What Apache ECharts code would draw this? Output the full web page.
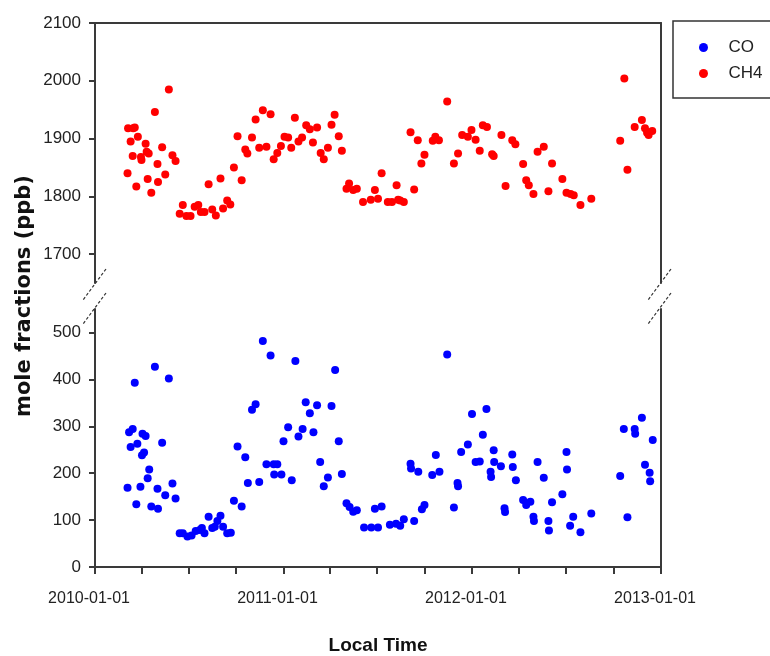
<!DOCTYPE html>
<html>
<head>
<meta charset="utf-8">
<script src="https://cdn.jsdelivr.net/npm/echarts@6/dist/echarts.min.js"></script>
<style>
html,body{margin:0;padding:0;background:#fff;}
#c{width:770px;height:656px;}
</style>
</head>
<body>
<div id="c"></div>
<script>
// ---- data ----
var seriesNames = ['CO', 'CH4'];
var ch4Data = [
['2010-03-05',1840],['2010-03-06',1918],['2010-03-11',1895],['2010-03-16',1918],['2010-03-19',1919],['2010-03-15',1870],['2010-03-22',1817],['2010-03-25',1903],['2010-03-31',1868],['2010-04-01',1863],['2010-04-09',1891],['2010-04-11',1877],['2010-04-15',1874],['2010-04-13',1830],['2010-04-20',1806],['2010-04-27',1946],['2010-05-02',1856],['2010-05-03',1825],['2010-05-11',1885],['2010-05-17',1838],['2010-05-24',1985],['2010-05-31',1871],['2010-06-06',1861],['2010-06-14',1770],['2010-06-20',1785],['2010-06-27',1766],['2010-07-05',1766],['2010-07-13',1782],['2010-07-20',1785],['2010-07-25',1773],['2010-08-01',1773],['2010-08-09',1821],['2010-08-16',1777],['2010-08-23',1767],['2010-09-01',1831],['2010-09-06',1779],['2010-09-14',1793],['2010-09-20',1786],['2010-09-27',1850],['2010-10-04',1904],['2010-10-12',1828],['2010-10-19',1881],['2010-10-23',1874],['2010-11-01',1902],['2010-11-08',1933],['2010-11-15',1884],['2010-11-22',1949],['2010-11-29',1886],['2010-12-07',1942],['2010-12-13',1864],['2010-12-20',1875],['2010-12-27',1887],
['2011-01-03',1903],['2011-01-10',1902],['2011-01-16',1884],['2011-01-23',1936],['2011-01-30',1895],['2011-02-06',1902],['2011-02-14',1923],['2011-02-21',1916],['2011-02-27',1893],['2011-03-07',1919],['2011-03-14',1875],['2011-03-20',1864],['2011-03-28',1884],['2011-04-04',1924],['2011-04-10',1941],['2011-04-18',1904],['2011-04-24',1879],['2011-05-03',1813],['2011-05-08',1822],['2011-05-16',1811],['2011-05-23',1813],['2011-06-04',1790],['2011-06-19',1794],['2011-06-27',1811],['2011-07-03',1796],['2011-07-10',1840],['2011-07-22',1790],['2011-07-30',1790],['2011-08-08',1819],['2011-08-11',1794],['2011-08-15',1793],['2011-08-22',1790],['2011-09-04',1911],['2011-09-11',1812],['2011-09-18',1897],['2011-09-25',1857],['2011-10-01',1872],['2011-10-17',1896],['2011-10-22',1903],['2011-10-29',1897],['2011-11-14',1964],['2011-11-27',1857],['2011-12-05',1874],['2011-12-13',1906],['2011-12-24',1903],['2011-12-31',1915],
['2012-01-08',1898],['2012-01-16',1879],['2012-01-22',1923],['2012-01-30',1920],['2012-02-09',1873],['2012-02-12',1870],['2012-02-27',1906],['2012-03-06',1818],['2012-03-19',1897],['2012-03-25',1890],['2012-04-09',1856],['2012-04-15',1828],['2012-04-20',1819],['2012-04-29',1804],['2012-05-07',1877],['2012-05-19',1886],['2012-05-28',1809],['2012-06-04',1857],['2012-06-24',1830],['2012-07-02',1806],['2012-07-10',1804],['2012-07-16',1802],['2012-07-29',1785],['2012-08-19',1796],['2012-10-14',1896],['2012-10-22',2004],['2012-10-28',1846],['2012-11-11',1920],['2012-11-25',1932],['2012-12-01',1918],['2012-12-05',1910],['2012-12-08',1906],['2012-12-15',1913]
];
var coData = [
['2010-03-05',169],['2010-03-08',287],['2010-03-15',294],['2010-03-11',256],['2010-03-19',393],['2010-03-22',134],['2010-03-24',263],['2010-03-30',171],['2010-04-03',284],['2010-04-09',279],['2010-04-02',238],['2010-04-06',244],['2010-04-13',189],['2010-04-16',208],['2010-04-20',129],['2010-04-27',427],['2010-05-02',167],['2010-05-03',124],['2010-05-11',265],['2010-05-17',153],['2010-05-24',402],['2010-05-31',178],['2010-06-06',146],['2010-06-14',72],['2010-06-20',72],['2010-06-29',65],['2010-07-07',67],['2010-07-15',77],['2010-07-23',79],['2010-07-27',83],['2010-08-01',72],['2010-08-09',107],['2010-08-16',83],['2010-08-21',86],['2010-08-26',98],['2010-09-01',109],['2010-09-06',86],['2010-09-14',72],['2010-09-21',73],['2010-09-27',141],['2010-10-04',257],['2010-10-12',129],['2010-10-19',234],['2010-10-24',179],['2010-11-01',335],['2010-11-08',347],['2010-11-15',181],['2010-11-22',482],['2010-12-07',451],['2010-11-29',219],['2010-12-13',219],['2010-12-20',219],['2010-12-14',197],['2010-12-28',197],
['2011-01-01',268],['2011-01-10',298],['2011-01-17',185],['2011-01-24',439],['2011-01-30',278],['2011-02-07',294],['2011-02-13',351],['2011-02-21',328],['2011-02-28',287],['2011-03-07',345],['2011-03-13',224],['2011-03-20',172],['2011-03-28',191],['2011-04-04',343],['2011-04-11',420],['2011-04-18',268],['2011-04-24',198],['2011-05-03',136],['2011-05-09',128],['2011-05-16',118],['2011-05-23',121],['2011-06-06',84],['2011-06-20',84],['2011-06-27',124],['2011-07-03',84],['2011-07-10',129],['2011-07-26',90],['2011-08-07',92],['2011-08-15',88],['2011-08-22',102],['2011-09-11',98],['2011-09-26',123],['2011-10-01',132],['2011-09-04',220],['2011-09-05',210],['2011-09-19',203],['2011-10-16',196],['2011-10-23',239],['2011-10-30',203],['2011-11-14',453],['2011-11-27',127],['2011-12-04',179],['2011-12-05',172],['2011-12-11',245],['2011-12-24',261],
['2012-01-01',326],['2012-01-08',224],['2012-01-16',225],['2012-01-22',282],['2012-01-29',337],['2012-02-06',203],['2012-02-07',192],['2012-02-12',249],['2012-02-13',224],['2012-02-26',215],['2012-03-04',125],['2012-03-05',117],['2012-03-19',240],['2012-03-20',213],['2012-03-26',185],['2012-04-09',143],['2012-04-15',132],['2012-04-23',139],['2012-04-29',107],['2012-04-30',98],['2012-05-07',224],['2012-05-19',190],['2012-05-28',98],['2012-05-29',78],['2012-06-04',138],['2012-06-24',155],['2012-07-02',245],['2012-07-03',208],['2012-07-09',88],['2012-07-15',107],['2012-07-29',74],['2012-08-19',114],['2012-10-14',194],['2012-10-21',294],['2012-10-28',106],['2012-11-11',294],['2012-11-12',284],['2012-11-25',318],['2012-12-01',218],['2012-12-10',201],['2012-12-11',183],['2012-12-16',271]
];
var xTickDates = ['2010-01-01','2010-04-01','2010-07-01','2010-10-01','2011-01-01','2011-04-01','2011-07-01','2011-10-01','2012-01-01','2012-04-01','2012-07-01','2012-10-01','2013-01-01'];
var xLabelDates = ['2010-01-01','2011-01-01','2012-01-01','2013-01-01'];
var ch4Ticks = [1700, 1800, 1900, 2000, 2100];
var coTicks = [0, 100, 200, 300, 400, 500];
var ch4Range = [1650, 2100];
var coRange = [0, 550];
var xRange = ['2010-01-01', '2013-01-01'];
var yTitle = 'mole fractions (ppb)';
var xTitle = 'Local Time';

// ---- chart ----
function ts(s) { var p = s.split('-'); return new Date(+p[0], +p[1] - 1, +p[2]).getTime(); }
function pad(n) { return (n < 10 ? '0' : '') + n; }
function fmtDate(v) { var d = new Date(v); return d.getFullYear() + '-' + pad(d.getMonth() + 1) + '-' + pad(d.getDate()); }
function fmtNum(v) { return String(v); }
var AXC = '#3a3a3a';
var FONT = '"Liberation Sans Narrow", "Liberation Sans", Arial, sans-serif';
var chart = echarts.init(document.getElementById('c'), null, { renderer: 'canvas' });
var L = 95, R = 661, T1 = 23, H1 = 260, T2 = 309, H2 = 260;
var lineStyle = { color: AXC, width: 2 };
function breakMark(x) {
  return [
    { type: 'line', shape: { x1: x + 11, y1: 269, x2: x - 12, y2: 300 }, style: { stroke: '#333', lineWidth: 1.2, lineDash: [3, 2] } },
    { type: 'line', shape: { x1: x + 11, y1: 293, x2: x - 12, y2: 324 }, style: { stroke: '#333', lineWidth: 1.2, lineDash: [3, 2] } }
  ];
}
var option = {
  animation: false,
  backgroundColor: '#fff',
  grid: [
    { left: L, top: T1, width: R - L, height: H1 },
    { left: L, top: T2, width: R - L, height: H2 }
  ],
  legend: {
    data: seriesNames,
    orient: 'vertical',
    left: 673, top: 21,
    padding: [18, 40, 16, 26],
    itemWidth: 40, itemHeight: 9, itemGap: 9,
    icon: 'circle',
    borderColor: '#333', borderWidth: 1.5,
    textStyle: { fontFamily: FONT, fontSize: 17, color: '#222' }
  },
  xAxis: [
    { gridIndex: 0, type: 'value', min: ts(xRange[0]), max: ts(xRange[1]), position: 'top',
      axisLine: { show: true, onZero: false, lineStyle: lineStyle }, axisTick: { show: false }, axisLabel: { show: false }, splitLine: { show: false } },
    { gridIndex: 1, type: 'value', min: ts(xRange[0]), max: ts(xRange[1]), position: 'bottom',
      axisLine: { show: true, onZero: false, lineStyle: lineStyle },
      axisTick: { show: true, inside: false, length: 7, lineStyle: lineStyle, customValues: xTickDates.map(ts) },
      axisLabel: { show: true, margin: 24, fontFamily: FONT, fontSize: 16, color: '#222', customValues: xLabelDates.map(ts),
        padding: [0, 12, 0, 0], formatter: fmtDate },
      splitLine: { show: false },
      name: xTitle, nameLocation: 'middle', nameGap: 69,
      nameTextStyle: { fontFamily: FONT, fontWeight: 'bold', fontSize: 19, color: '#111' } }
  ],
  yAxis: [
    { gridIndex: 0, type: 'value', min: ch4Range[0], max: ch4Range[1],
      axisLine: { show: true, onZero: false, lineStyle: lineStyle },
      axisTick: { show: true, inside: false, length: 6, lineStyle: lineStyle, customValues: ch4Ticks },
      axisLabel: { margin: 14, fontFamily: FONT, fontSize: 17, color: '#222', customValues: ch4Ticks, formatter: fmtNum },
      splitLine: { show: false } },
    { gridIndex: 0, type: 'value', position: 'right', min: ch4Range[0], max: ch4Range[1],
      axisLine: { show: true, onZero: false, lineStyle: lineStyle }, axisTick: { show: false }, axisLabel: { show: false }, splitLine: { show: false } },
    { gridIndex: 1, type: 'value', min: coRange[0], max: coRange[1],
      axisLine: { show: true, onZero: false, lineStyle: lineStyle },
      axisTick: { show: true, inside: false, length: 6, lineStyle: lineStyle, customValues: coTicks },
      axisLabel: { margin: 14, fontFamily: FONT, fontSize: 17, color: '#222', customValues: coTicks, formatter: fmtNum },
      splitLine: { show: false } },
    { gridIndex: 1, type: 'value', position: 'right', min: coRange[0], max: coRange[1],
      axisLine: { show: true, onZero: false, lineStyle: lineStyle }, axisTick: { show: false }, axisLabel: { show: false }, splitLine: { show: false } }
  ],
  series: [
    { name: 'CO', type: 'scatter', xAxisIndex: 1, yAxisIndex: 2, symbol: 'circle', symbolSize: 8,
      itemStyle: { color: '#0000ff', opacity: 1 }, data: coData.map(function (d) { return [ts(d[0]), d[1]]; }) },
    { name: 'CH4', type: 'scatter', xAxisIndex: 0, yAxisIndex: 0, symbol: 'circle', symbolSize: 8,
      itemStyle: { color: '#ff0000', opacity: 1 }, data: ch4Data.map(function (d) { return [ts(d[0]), d[1]]; }) }
  ],
  graphic: [
    { type: 'text', x: 25, y: 296, rotation: Math.PI / 2,
      style: { text: yTitle, fill: '#111', font: 'bold 21px "DejaVu Sans", sans-serif', textAlign: 'center', textVerticalAlign: 'middle' } }
  ].concat(breakMark(L)).concat(breakMark(R - 1))
};
chart.setOption(option);
</script>
</body>
</html>
